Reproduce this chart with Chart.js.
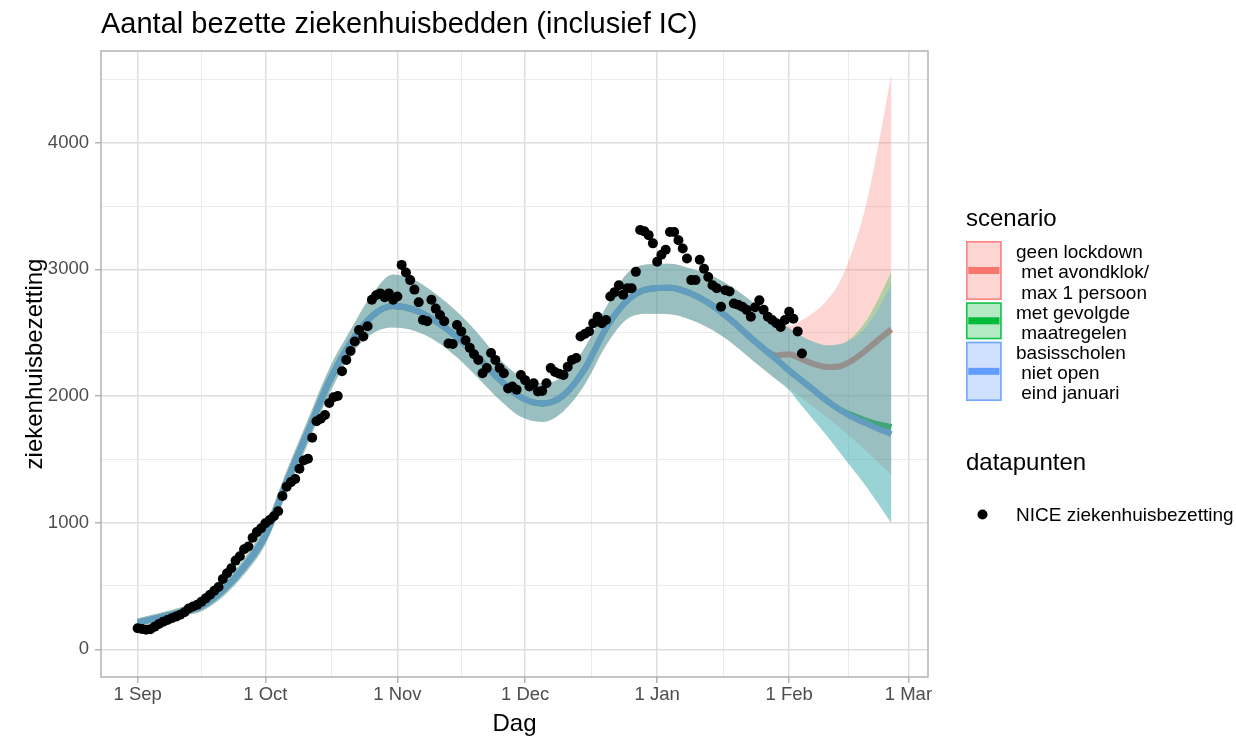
<!DOCTYPE html>
<html>
<head>
<meta charset="utf-8">
<script src="https://cdn.jsdelivr.net/npm/chart.js@4.4.1/dist/chart.umd.min.js"></script>
<style>
  body { margin: 0; background: #fff; }
  #wrap { position: relative; width: 1236px; height: 739px; }
</style>
</head>
<body>
<div id="wrap"><canvas id="chartCanvas"></canvas></div>
<script>
// x = days since 1 Sep
const xTickDays = [0, 30, 61, 91, 122, 153, 181];
const xTickLabels = ['1 Sep', '1 Oct', '1 Nov', '1 Dec', '1 Jan', '1 Feb', '1 Mar'];
const yTickValues = [0, 1000, 2000, 3000, 4000];

// NICE ziekenhuisbezetting, one value per day from 1 Sep
const niceValues = [
  166, 160, 155, 158, 178, 200, 218, 231, 245, 258,
  272, 292, 322, 338, 352, 376, 402, 430, 462, 492,
  555, 600, 640, 700, 735, 790, 812, 880, 925, 955,
  995, 1020, 1050, 1090, 1210, 1284, 1320, 1345, 1425, 1490,
  1505, 1670, 1800, 1820, 1850, 1945, 1990, 2000, 2195, 2285,
  2355, 2430, 2520, 2470, 2550, 2760, 2795, 2810, 2780, 2810,
  2760, 2785, 3035, 2975, 2915, 2840, 2740, 2600, 2590, 2760,
  2690, 2640, 2590, 2415, 2410, 2560, 2510, 2440, 2380, 2330,
  2285, 2180, 2220, 2340, 2285, 2220, 2180, 2060, 2075, 2050,
  2165, 2125, 2075, 2100, 2035, 2040, 2100, 2220, 2190, 2175,
  2165, 2230, 2285, 2300, 2470, 2490, 2510, 2575, 2625, 2575,
  2600, 2785, 2820, 2875, 2800, 2850, 2850, 2980, 3310, 3300,
  3270, 3205, 3060, 3115, 3155, 3295, 3295, 3230, 3165, 3085,
  2915, 2915, 3075, 3005, 2940, 2875, 2850, 2705, 2835, 2825,
  2730, 2720, 2705, 2680, 2625, 2700, 2755, 2680, 2625, 2600,
  2575, 2545, 2600, 2665, 2610, 2510, 2335
];

// model fit, identical for all three scenarios up to mid February
const sharedDays = [0, 5, 10, 15, 20, 25, 30, 35, 40, 45, 50, 55, 60, 65, 70, 75, 80, 85, 90, 95,
  100, 105, 110, 115, 120, 125, 130, 135, 140, 145];
const sharedMid = [210, 250, 290, 340, 465, 650, 900, 1320, 1720, 2115, 2420, 2630, 2710, 2680, 2590, 2465, 2300, 2130, 1990, 1940,
  2005, 2215, 2535, 2755, 2845, 2855, 2808, 2715, 2580, 2430];
const sharedHigh = [245, 285, 330, 385, 520, 715, 985, 1410, 1815, 2215, 2520, 2800, 2960, 2915, 2805, 2665, 2490, 2290, 2150, 2100,
  2160, 2380, 2700, 2970, 3040, 3045, 3005, 2945, 2850, 2725];
const sharedLow = [180, 220, 262, 300, 415, 590, 830, 1230, 1625, 2015, 2320, 2490, 2540, 2515, 2435, 2305, 2140, 1970, 1835, 1795,
  1880, 2090, 2400, 2610, 2650, 2645, 2600, 2520, 2405, 2265];

// projections per scenario
const projDays = [150, 153, 156, 159, 162, 165, 168, 171, 174, 177];
const redMid = [2320, 2330, 2290, 2250, 2228, 2235, 2285, 2360, 2445, 2526];
const redHigh = [2610, 2550, 2600, 2665, 2760, 2910, 3160, 3500, 3990, 4545];
const redLow = [2130, 2060, 1985, 1905, 1830, 1745, 1660, 1570, 1475, 1380];
const greenMid = [2290, 2200, 2120, 2040, 1960, 1890, 1845, 1805, 1775, 1755];
const greenHigh = [2610, 2535, 2470, 2425, 2400, 2410, 2470, 2590, 2770, 2985];
const greenLow = [2130, 2045, 1920, 1800, 1680, 1550, 1420, 1290, 1145, 995];
const blueMid = [2290, 2200, 2120, 2040, 1960, 1890, 1830, 1785, 1740, 1700];
const blueHigh = [2610, 2535, 2470, 2425, 2400, 2410, 2450, 2540, 2690, 2880];
const blueLow = [2130, 2045, 1920, 1800, 1680, 1550, 1420, 1290, 1145, 995];

const scenarioLabels = [
  ['geen lockdown', ' met avondklok/', ' max 1 persoon'],
  ['met gevolgde', ' maatregelen'],
  ['basisscholen', ' niet open', ' eind januari']
];
const scenarioColors = ['#F8766D', '#00BA38', '#619CFF'];
const scenarioFills = ['rgba(248,118,109,0.3)', 'rgba(0,186,56,0.3)', 'rgba(97,156,255,0.3)'];

const FONT = '"Liberation Sans", Arial, Helvetica, sans-serif';

function pts(days, vals) {
  return days.map((d, i) => ({ x: d, y: vals[i] }));
}
function withShared(vals, shared) {
  return pts(sharedDays.concat(projDays), shared.concat(vals));
}
function midpoints(arr) {
  const out = [];
  for (let i = 0; i < arr.length - 1; i++) out.push((arr[i] + arr[i + 1]) / 2);
  return out;
}

const xMinor = midpoints(xTickDays);
const yMinor = midpoints(yTickValues.concat([5000]));

function ribbon(low, high, fill, lowIndex, order) {
  const base = {
    type: 'line', pointRadius: 0, borderWidth: 0, borderColor: 'transparent',
    cubicInterpolationMode: 'monotone', order
  };
  return [
    Object.assign({}, base, { data: withShared(low, sharedLow), fill: false }),
    Object.assign({}, base, { data: withShared(high, sharedHigh), fill: { target: lowIndex }, backgroundColor: fill })
  ];
}
function modelLine(mid, color, order) {
  return {
    type: 'line', data: withShared(mid, sharedMid), borderColor: color, borderWidth: 6,
    pointRadius: 0, fill: false, cubicInterpolationMode: 'monotone', borderCapStyle: 'butt', order
  };
}

const datasets = [
  {
    type: 'line', data: niceValues.map((v, d) => ({ x: d, y: v })), showLine: false,
    pointRadius: 5, pointBackgroundColor: '#000', pointBorderWidth: 0, order: 0
  },
  ...ribbon(blueLow, blueHigh, scenarioFills[2], 1, 5),
  ...ribbon(greenLow, greenHigh, scenarioFills[1], 3, 6),
  ...ribbon(redLow, redHigh, scenarioFills[0], 5, 7),
  modelLine(blueMid, scenarioColors[2], 8),
  modelLine(greenMid, scenarioColors[1], 9),
  modelLine(redMid, scenarioColors[0], 10)
];

function gridOpts(majors) {
  return {
    color: c => majors.includes(c.tick.value) ? '#dedede' : '#ebebeb',
    lineWidth: c => majors.includes(c.tick.value) ? 1.5 : 1,
    tickColor: c => majors.includes(c.tick.value) ? '#b3b3b3' : 'rgba(0,0,0,0)',
    tickWidth: 1.5,
    tickLength: 6,
    drawTicks: true
  };
}

const decor = {
  id: 'decor',
  afterDatasetsDraw(chart) {
    const { ctx, chartArea: a } = chart;
    ctx.save();
    ctx.strokeStyle = '#b3b3b3';
    ctx.lineWidth = 1.5;
    ctx.strokeRect(a.left, a.top, a.right - a.left, a.bottom - a.top);
    ctx.restore();
  },
  afterDraw(chart) {
    const { ctx, chartArea: a } = chart;
    ctx.save();
    ctx.fillStyle = '#000';
    ctx.textBaseline = 'alphabetic';

    ctx.font = '29px ' + FONT;
    ctx.textAlign = 'left';
    ctx.fillText('Aantal bezette ziekenhuisbedden (inclusief IC)', 101, 33);

    ctx.font = '24px ' + FONT;
    ctx.textAlign = 'center';
    ctx.fillText('Dag', (a.left + a.right) / 2, 731);

    ctx.save();
    ctx.translate(42, (a.top + a.bottom) / 2);
    ctx.rotate(-Math.PI / 2);
    ctx.fillText('ziekenhuisbezetting', 0, 0);
    ctx.restore();

    // legend
    ctx.textAlign = 'left';
    ctx.fillText('scenario', 966, 226);
    const keyTops = [241, 302.3, 341.7];
    const keyHeights = [59, 37, 59.3];
    const baselines = [[257.5, 278, 298.5], [319, 338.5], [358.5, 378.5, 399]];
    scenarioLabels.forEach((lines, i) => {
      const top = keyTops[i], h = keyHeights[i];
      ctx.fillStyle = '#fff';
      ctx.fillRect(966, top, 35.7, h);
      ctx.fillStyle = scenarioFills[i];
      ctx.fillRect(966, top, 35.7, h);
      ctx.strokeStyle = scenarioColors[i];
      ctx.globalAlpha = 0.85;
      ctx.lineWidth = 1.6;
      ctx.strokeRect(966.8, top + 0.8, 34.1, h - 1.6);
      ctx.globalAlpha = 1;
      ctx.beginPath();
      ctx.moveTo(968.3, top + h / 2);
      ctx.lineTo(999.4, top + h / 2);
      ctx.lineWidth = 7;
      ctx.stroke();
      ctx.fillStyle = '#000';
      ctx.font = '19px ' + FONT;
      lines.forEach((t, j) => ctx.fillText(t, 1016, baselines[i][j]));
    });

    ctx.font = '24px ' + FONT;
    ctx.fillText('datapunten', 966, 470);
    ctx.beginPath();
    ctx.arc(982.5, 514.5, 5, 0, Math.PI * 2);
    ctx.fill();
    ctx.font = '19px ' + FONT;
    ctx.fillText('NICE ziekenhuisbezetting', 1016, 521);
    ctx.restore();
  }
};

const chartCanvas = document.getElementById('chartCanvas');
new Chart(chartCanvas, {
  type: 'line',
  data: { datasets },
  plugins: [decor],
  options: {
    responsive: true,
    maintainAspectRatio: false,
    animation: false,
    events: [],
    layout: { padding: { top: 51, right: 308, bottom: 0, left: 0 } },
    plugins: {
      legend: { display: false },
      title: { display: false },
      tooltip: { enabled: false },
      filler: { drawTime: 'beforeDatasetDraw' }
    },
    scales: {
      x: {
        type: 'linear', min: -8.6, max: 185.6,
        afterBuildTicks: s => { s.ticks = xTickDays.concat(xMinor).sort((p, q) => p - q).map(v => ({ value: v })); },
        afterFit: s => { s.height = 62; },
        ticks: {
          autoSkip: false, maxRotation: 0, padding: 1, color: '#4d4d4d',
          font: { family: FONT, size: 18.5 },
          callback: v => { const i = xTickDays.indexOf(v); return i >= 0 ? xTickLabels[i] : ''; }
        },
        grid: gridOpts(xTickDays),
        border: { display: false }
      },
      y: {
        type: 'linear', min: -219, max: 4724,
        afterBuildTicks: s => { s.ticks = yTickValues.concat(yMinor).filter(v => v <= 4724).sort((p, q) => p - q).map(v => ({ value: v })); },
        afterFit: s => { s.width = 101; },
        ticks: {
          padding: 6, color: '#4d4d4d',
          font: { family: FONT, size: 18.5 },
          callback: v => yTickValues.includes(v) ? String(v) : ''
        },
        grid: gridOpts(yTickValues),
        border: { display: false }
      }
    }
  }
});
</script>
</body>
</html>
